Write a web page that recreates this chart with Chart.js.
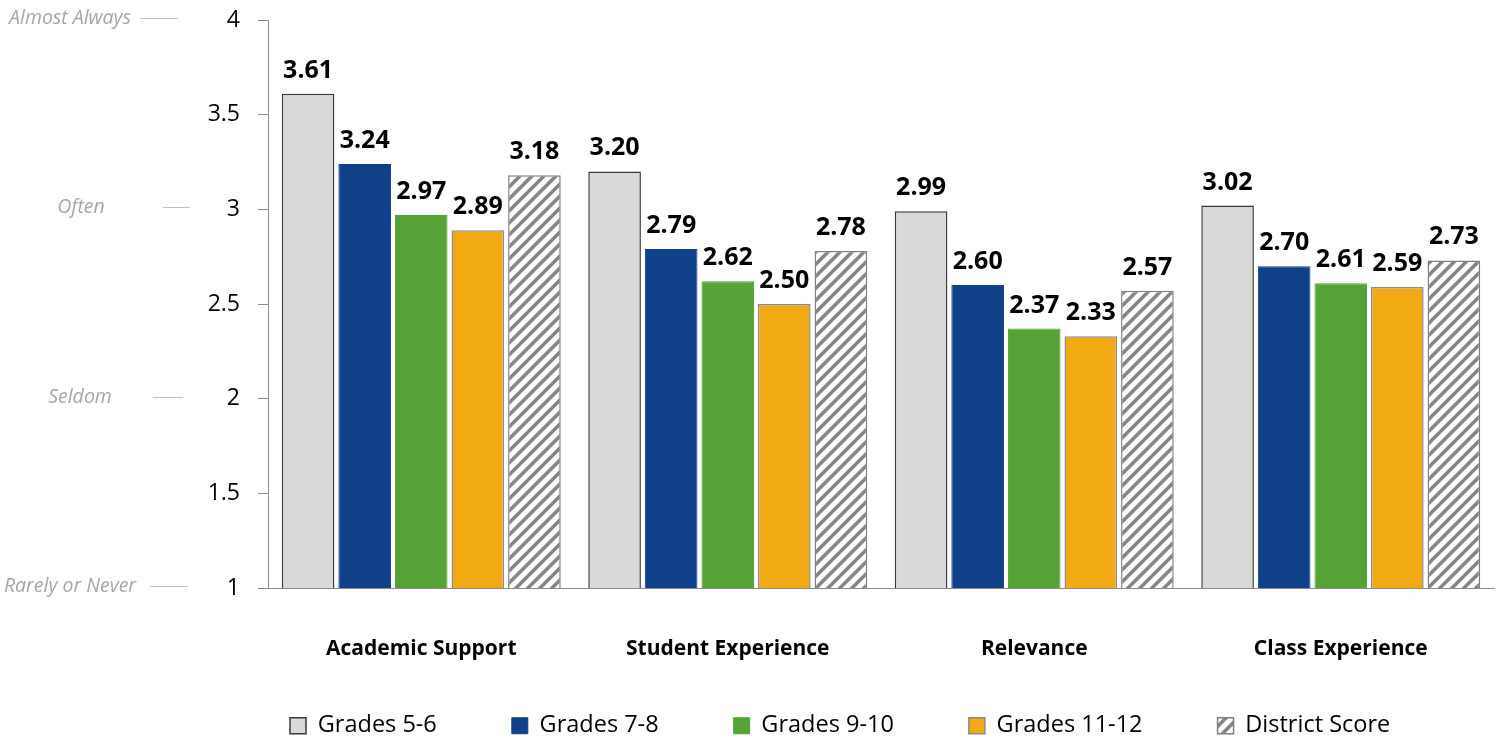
<!DOCTYPE html>
<html>
<head>
<meta charset="utf-8">
<script src="https://cdn.jsdelivr.net/npm/chart.js@4"></script>
<style>
  html, body { margin: 0; padding: 0; background: #fff; }
  #wrap { width: 1496px; height: 741px; }
</style>
</head>
<body>
<div id="wrap"><canvas id="myChart" width="1496" height="741"></canvas></div>
<script>
// chart values
const categories = ['Academic Support', 'Student Experience', 'Relevance', 'Class Experience'];
const seriesNames = ['Grades 5-6', 'Grades 7-8', 'Grades 9-10', 'Grades 11-12', 'District Score'];
const grades56 = [3.61, 3.20, 2.99, 3.02];
const grades78 = [3.24, 2.79, 2.60, 2.70];
const grades910 = [2.97, 2.62, 2.37, 2.61];
const grades1112 = [2.89, 2.50, 2.33, 2.59];
const districtScore = [3.18, 2.78, 2.57, 2.73];
const scaleLabels = ['Rarely or Never', 'Seldom', 'Often', 'Almost Always'];
const scaleLabelValues = [1, 2, 3, 4];

const FONT = '"Open Sans", Lato, sans-serif';

// diagonal hatch used for the district bars
function makeHatch() {
    const size = 12;
    const c = document.createElement('canvas');
    c.width = size; c.height = size;
    const g = c.getContext('2d');
    g.fillStyle = '#ffffff';
    g.fillRect(0, 0, size, size);
    g.strokeStyle = '#858585';
    g.lineWidth = 3.6;
    g.beginPath();
    g.moveTo(-3, size + 3); g.lineTo(size + 3, -3);
    g.moveTo(-3, 3); g.lineTo(3, -3);
    g.moveTo(size - 3, size + 3); g.lineTo(size + 3, size - 3);
    g.stroke();
    return g.createPattern(c, 'repeat');
}
const hatch = makeHatch();

// text above each bar
const valueLabels = {
    id: 'valueLabels',
    afterDatasetsDraw(chart) {
        const ctx = chart.ctx;
        ctx.save();
        ctx.font = 'bold 25px ' + FONT;
        ctx.fillStyle = '#000';
        ctx.textAlign = 'center';
        ctx.textBaseline = 'alphabetic';
        chart.data.datasets.forEach((ds, i) => {
            chart.getDatasetMeta(i).data.forEach((bar, j) => {
                ctx.fillText(ds.data[j].toFixed(2), bar.x, bar.y - 16);
            });
        });
        ctx.restore();
    }
};

// grey frequency words at the left of the value axis
const labelSpots = [
    { cx: 70, x1: 150, x2: 188 },
    { cx: 80, x1: 153, x2: 183 },
    { cx: 81, x1: 163, x2: 190 },
    { cx: 70, x1: 140, x2: 178 }
];
const sideLabels = {
    id: 'sideLabels',
    afterDraw(chart) {
        const ctx = chart.ctx;
        const y = chart.scales.y;
        ctx.save();
        ctx.font = 'italic 19.5px ' + FONT;
        ctx.fillStyle = '#a6a6a6';
        ctx.textAlign = 'center';
        ctx.textBaseline = 'middle';
        ctx.strokeStyle = '#bfbfbf';
        ctx.lineWidth = 1;
        scaleLabels.forEach((txt, i) => {
            const py = Math.round(y.getPixelForValue(scaleLabelValues[i])) - 2;
            const s = labelSpots[i];
            ctx.fillText(txt, s.cx, py);
            ctx.beginPath();
            ctx.moveTo(s.x1, py + 0.5);
            ctx.lineTo(s.x2, py + 0.5);
            ctx.stroke();
        });
        ctx.restore();
    }
};

// move the legend to where it sits in the original
const legendShift = {
    id: 'legendShift',
    afterLayout(chart) {
        const lg = chart.legend;
        const pad = lg.options.labels.padding;
        const start = (lg.left + pad + lg.right - lg.lineWidths[0]) / 2;
        const dx = 290 - start;
        lg.left += dx; lg.right += dx;
        lg.top = 714 - pad;
        lg.bottom = chart.height;
    }
};

const data = {
    labels: categories,
    datasets: [
        { label: seriesNames[0], data: grades56, backgroundColor: '#d9d9d9', borderColor: '#3a3a3a', borderWidth: 1.5 },
        { label: seriesNames[1], data: grades78, backgroundColor: '#11408a', borderColor: '#11408a', borderWidth: 1 },
        { label: seriesNames[2], data: grades910, backgroundColor: '#56a236', borderColor: '#56a236', borderWidth: 1 },
        { label: seriesNames[3], data: grades1112, backgroundColor: '#f1aa13', borderColor: '#8c8c8c', borderWidth: 1.5 },
        { label: seriesNames[4], data: districtScore, backgroundColor: hatch, borderColor: '#808080', borderWidth: 1.5 }
    ]
};

const config = {
    type: 'bar',
    data: data,
    options: {
        responsive: false,
        animation: false,
        layout: { padding: { top: 20, right: 2, left: 0, bottom: 0 } },
        datasets: {
            bar: { categoryPercentage: 0.923, barPercentage: 0.93, borderSkipped: 'start' }
        },
        scales: {
            x: {
                grid: { display: false, drawTicks: false },
                border: { display: true, color: '#8c8c8c', width: 1 },
                ticks: { color: '#000', padding: 48, font: { family: FONT, size: 21, weight: 'bold' } },
                afterFit(scale) { scale.height = 82; }
            },
            y: {
                min: 1,
                max: 4,
                ticks: {
                    stepSize: 0.5,
                    color: '#000',
                    padding: 18,
                    font: { family: FONT, size: 23 },
                    callback: (v) => String(v)
                },
                grid: { drawOnChartArea: false, drawTicks: true, tickLength: 10, color: '#8c8c8c' },
                border: { display: true, color: '#8c8c8c', width: 1 },
                afterFit(scale) {
                    scale.width = 268;
                    scale.paddingTop = 0;
                    scale.paddingBottom = 0;
                }
            }
        },
        plugins: {
            legend: {
                position: 'bottom',
                maxHeight: 71,
                labels: {
                    boxWidth: 16,
                    boxHeight: 16,
                    padding: 75,
                    color: '#000',
                    font: { family: FONT, size: 23.5 }
                }
            },
            tooltip: { enabled: false }
        }
    },
    plugins: [valueLabels, sideLabels, legendShift]
};

new Chart(document.getElementById('myChart').getContext('2d'), config);
</script>
</body>
</html>
